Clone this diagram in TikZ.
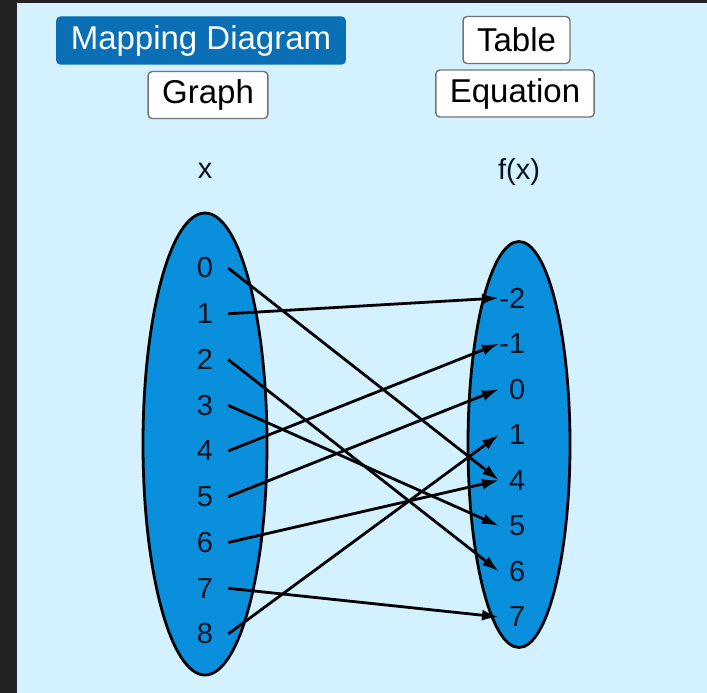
\documentclass[tikz,border=0pt]{standalone}
\usepackage{fontspec}
\setmainfont{Liberation Sans}
\usetikzlibrary{arrows.meta,shapes.geometric}
\definecolor{canvas}{HTML}{D3F1FE}
\definecolor{frame}{HTML}{222222}
\definecolor{setblue}{HTML}{0A8FDD}
\definecolor{tabblue}{HTML}{0A6FB5}
\definecolor{ink}{HTML}{0A1420}

\begin{document}
\begin{tikzpicture}[x=1pt,y=-1pt,>=Latex,
tab/.style={draw=black!55,line width=1.4pt,rounded corners=4pt,fill=white,
  font=\fontsize{33}{38}\selectfont,inner xsep=14pt,inner ysep=0pt,minimum height=47pt},
active/.style={tab,fill=tabblue,draw=tabblue,text=white},
set/.style={ellipse,draw=black,line width=2.8pt,fill=setblue,inner sep=0pt},
head/.style={text=ink,font=\fontsize{29}{32}\selectfont},
num/.style={text=ink,font=\fontsize{29}{32}\selectfont,inner sep=0pt,minimum width=46pt},
val/.style={num,minimum width=0pt,anchor=west,text width=26pt,align=right},
map/.style={-{Latex[length=17pt,width=11pt]},line width=2.8pt,black}]
\useasboundingbox (0,0) rectangle (707,693);
\fill[frame] (0,0) rectangle (707,693);
\fill[canvas] (17,3) rectangle (707,693);
% view switches
\node[active] (mapping) at (201,40.5) {Mapping Diagram};
\node[tab] (graph) at (208,95) {Graph};
\node[tab] (table) at (516.5,40) {Table};
\node[tab] (equation) at (515,93.5) {Equation};
% domain and range
\node[head] (xlab) at (205,171) {x};
\node[head] (fxlab) at (519,172) {f(x)};
\node[set,minimum width=124pt,minimum height=462pt] (domain) at (205,444) {};
\node[set,minimum width=102pt,minimum height=406pt] (range) at (519,444.5) {};
\foreach \v [count=\i from 0] in {0,...,8}
  \node[num] (x\v) at (205,{268+45.75*\i}) {\v};
\foreach \v/\n [count=\i from 0] in {-2/m2,-1/m1,0/0,1/1,4/4,5/5,6/6,7/7}
  \node[val] (y\n) at (499,{298+45.57*\i}) {\v};
\foreach \a/\b in {0/4,1/m2,2/6,3/5,4/m1,5/0,6/4,7/7,8/1}
  \draw[map] (x\a.east) -- (y\b.west);
\end{tikzpicture}
\end{document}
